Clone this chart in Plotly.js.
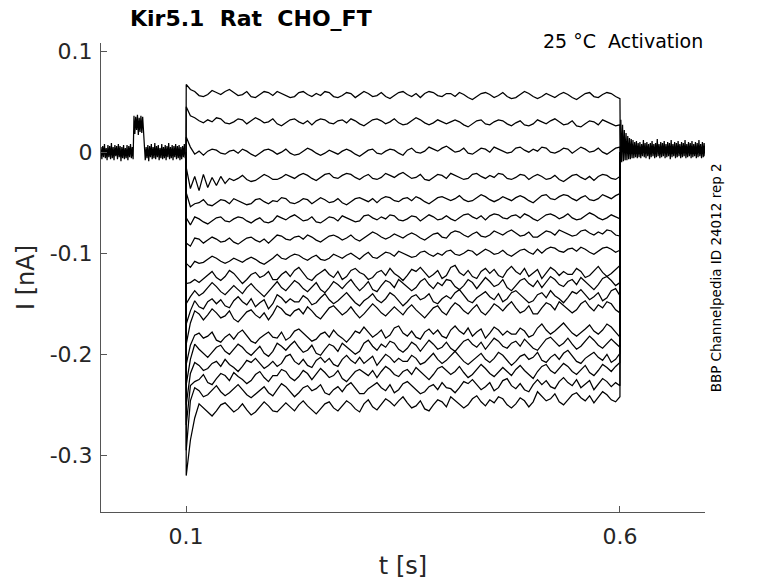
<!DOCTYPE html>
<html>
<head>
<meta charset="utf-8">
<script src="https://cdn.plot.ly/plotly-3.0.1.min.js"></script>
<style>
  html, body { margin: 0; padding: 0; background: #fff; }
  #plot { width: 778px; height: 583px; }
</style>
</head>
<body>
<div id="plot"></div>
<script>
// all currents in pA

// holding before the step, 0.002 .. 0.100 s every 1 ms (prepulse around 0.04 s)
const preCurrent = [
  5, -7, 6, -5, 8, -6, 4, -8, 7, -5,
  6, -7, 9, -6, 5, -8, 7, -4, 6, -7,
  8, -5, 6, -9, 5, -6, 7, -7, 4, -6,
  7, -8, 6, -5, 8, -6, 5, -7,
  36, 18, 35, 22, 37, 17, 34, 20, 36, 19, 35, 21,
  6, -8, 5, -6, 7, -9, 6, -5, 8, -7,
  5, -6, 9, -7, 6, -5, 7, -8, 4, -6,
  8, -7, 5, -6, 7, -8, 6, -5, 9, -7,
  5, -6, 7, -8, 6, -5, 8, -7, 6, -6,
  7, -8, 5, -7, 6, -5, 8, -6, 0
];

// tail after the step, 0.601 .. 0.698 s every 1 ms
const postCurrent = [
  32, -10, 27, -9, 22, -8, 19, -8, 16, -7,
  14, -7, 13, -6, 12, -6, 10, -5, 11, -6,
  9, -5, 10, -6, 8, -4, 12, -5, 9, -6,
  10, -4, 8, -7, 9, -5, 11, -4, 8, -6,
  9, -5, 13, -4, 8, -6, 10, -5, 9, -4,
  11, -6, 8, -5, 10, -4, 9, -7, 12, -5,
  8, -4, 10, -6, 9, -5, 11, -4, 8, -6,
  10, -5, 9, -4, 12, -6, 8, -5, 10, -4,
  9, -6, 11, -5, 8, -4, 10, -6, 9, -5,
  12, -4, 8, -6, 10, -5, 9, -4
];

// capacitive spike right at 0.1 s, one per sweep
const sweepPeaks = [67, 45, 15, -15, -40, -65, -90, -110, -130, -150, -170, -190, -210, -230, -250, -270, -295, -320];

// step sweeps, 0.105 .. 0.600 s every 5 ms
const sweep01 = [
  62, 60, 56, 55, 57, 61, 59, 57, 60, 62, 59, 56, 57, 60, 55, 54, 57, 60, 59, 56,
  60, 58, 56, 54, 55, 59, 60, 57, 55, 58, 56, 60, 59, 55, 54, 56, 59, 58, 54, 57,
  60, 58, 55, 56, 59, 55, 53, 56, 59, 60, 57, 55, 58, 54, 58, 60, 59, 56, 55, 58,
  58, 55, 59, 57, 54, 52, 55, 58, 59, 57, 54, 56, 59, 55, 53, 54, 57, 60, 58, 55,
  53, 55, 58, 56, 54, 57, 59, 57, 54, 52, 55, 58, 59, 55, 54, 57, 59, 58, 55, 53
];
const sweep02 = [
  36, 34, 31, 29, 32, 30, 34, 33, 29, 28, 30, 33, 32, 28, 31, 34, 32, 29, 30, 33,
  28, 26, 29, 32, 33, 30, 28, 31, 27, 31, 33, 32, 29, 28, 31, 32, 29, 33, 31, 28,
  26, 29, 32, 33, 31, 28, 30, 33, 29, 27, 28, 31, 34, 32, 29, 27, 29, 32, 30, 28,
  30, 32, 30, 27, 25, 28, 31, 32, 28, 27, 30, 32, 31, 28, 26, 29, 31, 27, 26, 28,
  32, 30, 28, 31, 33, 30, 27, 28, 31, 26, 25, 28, 31, 30, 27, 32, 30, 28, 26, 27
];
const sweep03 = [
  5, -2, 1, -3, 1, 3, 2, -1, -2, 1, 2, -1, 3, 1, -2, -4, -1, 2, 3, 1,
  -2, 0, 3, -1, -3, -2, 1, 4, 2, -1, -3, -1, 2, 0, -2, 1, 3, 1, -2, -4,
  -1, 2, 3, -1, -2, 1, 3, 2, -1, -3, 2, 4, 0, -1, 1, 5, 3, 1, 4, 6,
  3, 0, 1, 4, -1, -2, 1, 4, 3, 0, 5, 3, 1, -1, 0, 4, 5, 2, 0, 3,
  1, 5, 4, 0, -1, 1, 4, 3, -1, 2, 5, 3, 0, 1, 4, 0, -2, 1, 4, 5
];
const sweep04 = [
  -36, -24, -38, -22, -35, -25, -33, -24, -31, -26, -28, -26, -23, -27, -29, -28, -25, -22, -24, -27,
  -27, -25, -22, -24, -26, -23, -21, -23, -26, -28, -25, -22, -21, -25, -26, -23, -21, -22, -25, -27,
  -24, -22, -26, -27, -25, -21, -23, -25, -22, -20, -23, -26, -25, -22, -27, -28, -25, -22, -23, -26,
  -21, -23, -25, -27, -26, -22, -21, -24, -26, -23, -25, -21, -22, -26, -27, -25, -22, -23, -27, -24,
  -22, -24, -27, -26, -23, -27, -29, -26, -23, -22, -25, -27, -24, -28, -24, -22, -23, -26, -27, -24
];
const sweep05 = [
  -54, -51, -50, -47, -52, -53, -50, -47, -48, -51, -46, -48, -50, -52, -51, -47, -46, -49, -51, -48,
  -49, -45, -46, -50, -51, -49, -46, -47, -51, -48, -45, -47, -50, -49, -46, -50, -52, -49, -46, -45,
  -47, -49, -46, -50, -46, -44, -45, -48, -49, -46, -45, -48, -44, -46, -49, -51, -48, -45, -44, -46,
  -48, -46, -43, -47, -49, -48, -45, -42, -44, -47, -49, -47, -44, -46, -48, -45, -43, -45, -48, -50,
  -46, -43, -42, -46, -47, -44, -42, -43, -46, -48, -45, -43, -47, -48, -46, -42, -44, -46, -43, -41
];
const sweep06 = [
  -72, -64, -66, -69, -71, -68, -65, -64, -68, -69, -66, -64, -65, -68, -70, -67, -65, -69, -70, -68,
  -63, -65, -67, -64, -62, -65, -68, -67, -64, -69, -70, -67, -64, -65, -68, -63, -65, -67, -69, -68,
  -63, -62, -65, -67, -64, -66, -62, -63, -67, -68, -66, -63, -64, -68, -65, -62, -64, -67, -66, -63,
  -66, -68, -65, -62, -61, -64, -66, -63, -67, -63, -61, -62, -65, -66, -63, -62, -65, -61, -63, -66,
  -68, -65, -62, -61, -63, -66, -64, -61, -65, -67, -66, -63, -60, -62, -65, -67, -65, -62, -64, -66
];
const sweep07 = [
  -93, -85, -86, -90, -87, -84, -86, -89, -88, -85, -89, -91, -88, -85, -84, -87, -89, -86, -90, -86,
  -82, -83, -86, -87, -84, -83, -86, -82, -84, -87, -89, -86, -83, -82, -84, -87, -85, -82, -86, -88,
  -85, -82, -79, -81, -84, -86, -84, -81, -83, -85, -82, -80, -82, -85, -87, -84, -81, -80, -84, -85,
  -80, -78, -79, -82, -84, -81, -79, -83, -84, -82, -78, -80, -82, -79, -77, -80, -83, -82, -79, -84,
  -84, -81, -78, -79, -82, -77, -79, -81, -83, -82, -78, -77, -80, -82, -79, -81, -77, -78, -82, -83
];
const sweep08 = [
  -114, -108, -110, -109, -106, -103, -105, -108, -110, -108, -105, -107, -109, -106, -104, -106, -109, -111, -108, -105,
  -101, -105, -106, -103, -101, -102, -105, -107, -104, -102, -106, -107, -105, -101, -103, -105, -102, -100, -103, -106,
  -102, -99, -104, -105, -102, -99, -100, -103, -98, -100, -102, -104, -103, -99, -98, -101, -103, -100, -102, -98,
  -97, -101, -102, -100, -97, -98, -102, -99, -96, -98, -101, -100, -97, -101, -103, -100, -97, -96, -99, -101,
  -96, -100, -96, -94, -95, -98, -99, -96, -95, -98, -94, -96, -99, -101, -98, -95, -94, -96, -99, -97
];
const sweep09 = [
  -129, -126, -129, -125, -122, -118, -124, -127, -123, -117, -120, -125, -130, -126, -121, -119, -124, -122, -118, -126,
  -126, -121, -118, -123, -117, -114, -120, -125, -127, -122, -119, -116, -121, -124, -118, -126, -123, -117, -115, -119,
  -121, -126, -124, -119, -117, -122, -115, -120, -123, -127, -122, -116, -118, -114, -119, -124, -121, -117, -125, -122,
  -114, -112, -119, -122, -117, -123, -125, -118, -115, -120, -116, -122, -124, -117, -113, -118, -121, -115, -123, -119,
  -116, -125, -120, -114, -117, -122, -118, -121, -121, -115, -118, -124, -122, -117, -113, -119, -123, -120, -116, -112
];
const sweep10 = [
  -143, -137, -142, -139, -134, -129, -133, -138, -141, -137, -132, -136, -140, -134, -130, -135, -139, -143, -138, -133,
  -128, -134, -137, -132, -127, -130, -135, -138, -133, -129, -136, -139, -134, -128, -131, -135, -130, -126, -132, -137,
  -133, -128, -136, -138, -132, -127, -129, -134, -126, -130, -133, -137, -134, -128, -125, -131, -135, -129, -132, -126,
  -127, -133, -136, -132, -126, -129, -135, -130, -124, -128, -133, -131, -126, -134, -137, -132, -127, -125, -130, -133,
  -127, -134, -128, -123, -126, -131, -133, -128, -126, -131, -124, -128, -133, -136, -131, -125, -123, -127, -132, -129
];
const sweep11 = [
  -157, -147, -153, -155, -148, -145, -150, -146, -152, -154, -147, -143, -148, -151, -145, -153, -149, -146, -155, -150,
  -141, -144, -149, -145, -148, -148, -142, -145, -151, -149, -144, -140, -146, -150, -147, -143, -139, -144, -149, -152,
  -147, -144, -140, -146, -149, -145, -139, -142, -147, -152, -148, -143, -141, -146, -144, -140, -148, -150, -145, -142,
  -145, -139, -136, -142, -147, -149, -144, -141, -138, -143, -146, -140, -148, -145, -139, -137, -141, -144, -149, -147,
  -141, -139, -144, -137, -142, -145, -149, -144, -138, -140, -136, -141, -146, -143, -139, -147, -144, -137, -135, -142
];
const sweep12 = [
  -169, -157, -160, -166, -161, -155, -159, -164, -162, -157, -165, -168, -163, -158, -156, -161, -164, -159, -166, -160,
  -152, -155, -160, -162, -157, -155, -160, -153, -157, -162, -165, -160, -154, -152, -156, -161, -158, -153, -159, -164,
  -160, -155, -150, -154, -159, -162, -158, -153, -157, -161, -155, -151, -156, -160, -164, -159, -154, -152, -158, -161,
  -154, -149, -152, -157, -160, -155, -151, -158, -161, -156, -150, -153, -157, -152, -148, -154, -159, -157, -152, -160,
  -160, -154, -149, -151, -156, -148, -152, -155, -159, -156, -150, -147, -153, -157, -151, -154, -148, -150, -156, -159
];
const sweep13 = [
  -191, -181, -179, -184, -182, -178, -186, -188, -183, -180, -185, -179, -176, -182, -187, -189, -184, -181, -178, -183,
  -184, -178, -186, -183, -177, -175, -179, -182, -187, -185, -180, -178, -183, -176, -181, -184, -188, -183, -177, -179,
  -173, -178, -183, -180, -176, -184, -181, -174, -172, -179, -182, -177, -183, -185, -178, -175, -180, -176, -182, -184,
  -176, -172, -177, -180, -174, -182, -178, -175, -184, -179, -173, -176, -181, -177, -180, -180, -174, -177, -183, -181,
  -174, -170, -176, -180, -177, -173, -169, -174, -179, -182, -178, -175, -171, -177, -180, -176, -170, -173, -178, -183
];
const sweep14 = [
  -205, -190, -195, -199, -203, -198, -193, -191, -197, -200, -195, -190, -193, -198, -201, -196, -192, -199, -202, -197,
  -189, -192, -196, -191, -187, -193, -198, -196, -191, -199, -201, -195, -190, -192, -197, -189, -193, -196, -200, -197,
  -189, -186, -192, -196, -190, -193, -187, -189, -195, -198, -194, -188, -191, -197, -192, -186, -190, -195, -193, -188,
  -194, -197, -192, -187, -185, -190, -193, -188, -195, -189, -184, -187, -192, -194, -189, -187, -192, -185, -189, -194,
  -196, -191, -185, -183, -187, -192, -189, -184, -190, -195, -192, -187, -182, -186, -191, -194, -190, -185, -189, -193
];
const sweep15 = [
  -219, -208, -211, -216, -214, -209, -207, -212, -205, -210, -213, -217, -212, -206, -208, -204, -209, -214, -211, -207,
  -212, -209, -202, -200, -207, -210, -205, -211, -213, -206, -203, -208, -204, -210, -212, -205, -201, -206, -209, -203,
  -209, -205, -202, -211, -206, -200, -203, -208, -204, -207, -207, -201, -204, -210, -208, -203, -199, -205, -209, -206,
  -201, -197, -202, -207, -210, -206, -203, -199, -205, -208, -204, -198, -201, -206, -211, -207, -202, -200, -205, -203,
  -198, -206, -208, -203, -200, -205, -199, -196, -202, -207, -209, -204, -201, -198, -203, -206, -200, -208, -205, -199
];
const sweep16 = [
  -231, -227, -225, -220, -228, -230, -224, -219, -221, -226, -218, -222, -225, -229, -226, -220, -217, -223, -227, -221,
  -221, -215, -217, -223, -226, -222, -216, -219, -225, -220, -214, -218, -223, -221, -216, -224, -227, -222, -217, -215,
  -218, -221, -216, -223, -217, -212, -215, -220, -222, -217, -215, -220, -213, -217, -222, -225, -220, -214, -212, -216,
  -220, -217, -212, -218, -223, -220, -215, -210, -214, -219, -222, -218, -213, -217, -221, -215, -211, -216, -220, -224,
  -217, -212, -210, -216, -219, -214, -209, -212, -217, -220, -215, -211, -218, -221, -216, -210, -213, -217, -212, -208
];
const sweep17 = [
  -246, -233, -236, -242, -240, -235, -231, -237, -241, -238, -234, -230, -235, -240, -243, -239, -236, -232, -238, -241,
  -235, -229, -232, -237, -242, -238, -233, -231, -236, -234, -230, -238, -240, -235, -232, -237, -231, -228, -234, -239,
  -239, -234, -231, -228, -233, -236, -230, -238, -235, -229, -227, -231, -234, -239, -237, -232, -230, -235, -228, -233,
  -234, -238, -233, -227, -229, -225, -230, -235, -232, -228, -236, -233, -226, -224, -231, -234, -229, -235, -237, -230,
  -225, -230, -226, -232, -234, -227, -223, -228, -231, -225, -233, -229, -226, -235, -230, -224, -227, -232, -228, -231
];
const sweep18 = [
  -285, -263, -249, -253, -258, -261, -256, -250, -248, -252, -257, -254, -249, -255, -260, -257, -252, -247, -251, -256,
  -257, -253, -248, -252, -256, -250, -246, -251, -255, -259, -254, -249, -247, -253, -256, -251, -246, -249, -254, -257,
  -249, -245, -252, -255, -250, -244, -247, -251, -246, -242, -248, -253, -251, -246, -254, -256, -250, -245, -247, -252,
  -242, -246, -249, -253, -250, -244, -241, -247, -251, -245, -248, -242, -244, -250, -253, -249, -243, -246, -252, -247,
  -237, -241, -246, -244, -239, -247, -250, -245, -240, -238, -243, -246, -241, -248, -242, -237, -240, -245, -247, -242
];

const sweeps = [sweep01, sweep02, sweep03, sweep04, sweep05, sweep06, sweep07, sweep08, sweep09,
                sweep10, sweep11, sweep12, sweep13, sweep14, sweep15, sweep16, sweep17, sweep18];

const xTickVals = [0.1, 0.6];
const xTickText = ['0.1', '0.6'];
const yTickVals = [-0.3, -0.2, -0.1, 0, 0.1];
const yTickText = ['-0.3', '-0.2', '-0.1', '0', '0.1'];

document.addEventListener('DOMContentLoaded', function() {
    const plotElement = document.getElementById('plot');
    const font = 'DejaVu Sans, sans-serif';
    const ink = '#262626';

    // sample grid of the recording
    function sampleTimes(start, dt, n) {
        const t = [];
        for (let i = 0; i < n; i++) t.push(Math.round((start + i * dt) * 1e5) / 1e5);
        return t;
    }
    const toNA = v => v / 1000;

    const lineStyle = { color: '#000000', width: 1.25 };
    const traces = [];

    traces.push({
        x: sampleTimes(0.002, 0.001, preCurrent.length),
        y: preCurrent.map(toNA),
        type: 'scatter', mode: 'lines', line: lineStyle, hoverinfo: 'skip'
    });

    const stepT = sampleTimes(0.105, 0.005, sweep01.length);
    sweeps.forEach(function(sw, i) {
        traces.push({
            x: [0.1, 0.1002].concat(stepT, [0.6004]),
            y: [0, toNA(sweepPeaks[i])].concat(sw.map(toNA), [0]),
            type: 'scatter', mode: 'lines', line: lineStyle, hoverinfo: 'skip'
        });
    });

    traces.push({
        x: sampleTimes(0.601, 0.001, postCurrent.length),
        y: postCurrent.map(toNA),
        type: 'scatter', mode: 'lines', line: lineStyle, hoverinfo: 'skip'
    });

    Plotly.newPlot(plotElement, traces, {
        width: 778,
        height: 583,
        margin: { l: 101, r: 73, t: 43, b: 71 },
        paper_bgcolor: '#ffffff',
        plot_bgcolor: '#ffffff',
        showlegend: false,
        font: { family: font, color: ink },
        title: {
            text: '<b>Kir5.1  Rat  CHO_FT</b>',
            font: { family: font, size: 22, color: '#000000' },
            xref: 'container', x: 130 / 778, xanchor: 'left',
            yref: 'container', y: 1 - 18 / 583, yanchor: 'middle'
        },
        xaxis: {
            range: [0.002, 0.698],
            tickvals: xTickVals, ticktext: xTickText,
            ticks: 'inside', ticklen: 6, tickcolor: '#555555',
            showline: true, linecolor: '#555555', linewidth: 1,
            showgrid: false, zeroline: false,
            tickfont: { family: font, size: 22, color: ink },
            ticklabelstandoff: 5,
            title: { text: 't [s]', font: { family: font, size: 24, color: ink }, standoff: 8 }
        },
        yaxis: {
            range: [-0.356, 0.108],
            tickvals: yTickVals, ticktext: yTickText,
            ticks: 'inside', ticklen: 6, tickcolor: '#555555',
            showline: true, linecolor: '#555555', linewidth: 1,
            showgrid: false, zeroline: false,
            tickfont: { family: font, size: 22, color: ink },
            ticklabelstandoff: 3,
            title: { text: 'I [nA]', font: { family: font, size: 24, color: ink }, standoff: 8 }
        },
        annotations: [
            {
                text: '25 °C  Activation',
                xref: 'paper', x: 1, xanchor: 'right',
                yref: 'paper', y: 1.004, yanchor: 'middle',
                showarrow: false,
                font: { family: font, size: 19, color: '#000000' }
            },
            {
                text: 'BBP Channelpedia ID 24012 rep 2',
                textangle: -90,
                xref: 'paper', x: 1.018, xanchor: 'center',
                yref: 'paper', y: 0.5, yanchor: 'middle',
                showarrow: false,
                font: { family: font, size: 13.5, color: '#000000' }
            }
        ]
    }, { displayModeBar: false, staticPlot: true });
});
</script>
</body>
</html>
